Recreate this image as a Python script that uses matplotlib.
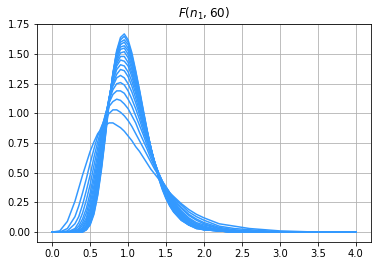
import numpy as np
import matplotlib
matplotlib.use("Agg")
import matplotlib.pyplot as plt

# x positions where the densities were read
x = [0, 0.1, 0.2, 0.3, 0.35, 0.4, 0.45, 0.5, 0.55, 0.6, 0.65, 0.7, 0.75, 0.8,
     0.85, 0.9, 0.95, 1.0, 1.05, 1.1, 1.15, 1.2, 1.25, 1.3, 1.35, 1.4, 1.45,
     1.5, 1.55, 1.6, 1.7, 1.8, 1.9, 2.0, 2.2, 2.4, 2.6, 2.8, 3.0, 3.5, 4.0]

# n1 of each curve
n1 = [10, 14, 18, 22, 26, 30, 34, 38, 42, 46, 50, 54, 58, 62, 66, 70, 74]

# density values (x 0.01)
f10 = [0, 1, 9, 26, 37, 48, 58, 68, 76, 83, 87, 90, 92, 92, 90, 88, 85, 81, 77, 72, 68,
       63, 58, 53, 49, 45, 41, 37, 33, 30, 24, 19, 15, 12, 7, 5, 3, 2, 1, 0, 0]
f14 = [0, 0, 3, 13, 22, 33, 45, 58, 70, 81, 89, 96, 100, 103, 103, 101, 98, 94, 89, 83, 77,
       71, 65, 59, 53, 48, 42, 38, 33, 29, 23, 17, 13, 10, 5, 3, 2, 1, 0, 0, 0]
f18 = [0, 0, 1, 7, 13, 23, 35, 48, 63, 76, 88, 98, 106, 110, 112, 111, 108, 104, 98, 92, 84,
       77, 70, 62, 55, 49, 43, 38, 33, 28, 21, 15, 11, 8, 4, 2, 1, 1, 0, 0, 0]
f22 = [0, 0, 0, 3, 8, 16, 27, 40, 56, 71, 86, 99, 109, 116, 119, 119, 117, 112, 106, 98, 90,
       82, 73, 65, 57, 50, 43, 37, 32, 27, 20, 14, 10, 7, 3, 1, 1, 0, 0, 0, 0]
f26 = [0, 0, 0, 2, 5, 11, 20, 33, 49, 66, 83, 98, 111, 120, 125, 126, 124, 119, 112, 104, 95,
       85, 76, 66, 58, 50, 43, 36, 31, 26, 18, 12, 8, 6, 3, 1, 0, 0, 0, 0, 0]
f30 = [0, 0, 0, 1, 3, 8, 16, 28, 44, 61, 80, 97, 112, 123, 130, 132, 130, 125, 118, 109, 99,
       88, 78, 68, 58, 50, 42, 36, 30, 25, 17, 11, 7, 5, 2, 1, 0, 0, 0, 0, 0]
f34 = [0, 0, 0, 1, 2, 6, 12, 24, 39, 57, 77, 96, 113, 125, 133, 137, 136, 131, 123, 113, 102,
       91, 79, 69, 59, 50, 42, 35, 29, 24, 16, 10, 7, 4, 2, 1, 0, 0, 0, 0, 0]
f38 = [0, 0, 0, 0, 1, 4, 10, 20, 35, 53, 74, 94, 113, 127, 137, 141, 140, 135, 127, 117, 105,
       93, 81, 69, 59, 49, 41, 34, 28, 23, 15, 9, 6, 4, 1, 1, 0, 0, 0, 0, 0]
f42 = [0, 0, 0, 0, 1, 3, 8, 17, 31, 49, 71, 93, 113, 129, 140, 145, 144, 140, 131, 120, 107,
       94, 82, 70, 59, 49, 40, 33, 27, 22, 14, 9, 5, 3, 1, 0, 0, 0, 0, 0, 0]
f46 = [0, 0, 0, 0, 1, 2, 6, 15, 28, 46, 68, 91, 112, 130, 142, 148, 148, 143, 134, 123, 110,
       96, 83, 70, 59, 49, 40, 32, 26, 21, 13, 8, 5, 3, 1, 0, 0, 0, 0, 0, 0]
f50 = [0, 0, 0, 0, 0, 2, 5, 13, 25, 43, 65, 89, 112, 131, 144, 151, 152, 147, 137, 125, 112,
       97, 83, 70, 59, 48, 39, 32, 25, 20, 13, 8, 5, 3, 1, 0, 0, 0, 0, 0, 0]
f54 = [0, 0, 0, 0, 0, 1, 4, 11, 23, 41, 63, 88, 111, 132, 146, 154, 155, 150, 140, 128, 113,
       98, 84, 71, 58, 48, 39, 31, 25, 20, 12, 7, 4, 3, 1, 0, 0, 0, 0, 0, 0]
f58 = [0, 0, 0, 0, 0, 1, 4, 10, 21, 38, 61, 86, 111, 132, 148, 156, 157, 153, 143, 130, 115,
       99, 85, 71, 58, 47, 38, 30, 24, 19, 11, 7, 4, 2, 1, 0, 0, 0, 0, 0, 0]
f62 = [0, 0, 0, 0, 0, 1, 3, 8, 19, 36, 58, 84, 110, 133, 149, 158, 160, 155, 145, 132, 116,
       100, 85, 71, 58, 47, 38, 30, 23, 18, 11, 6, 4, 2, 1, 0, 0, 0, 0, 0, 0]
f66 = [0, 0, 0, 0, 0, 1, 2, 7, 18, 34, 56, 83, 110, 133, 151, 160, 162, 158, 147, 133, 118,
       101, 85, 71, 58, 47, 37, 29, 23, 18, 11, 6, 4, 2, 1, 0, 0, 0, 0, 0, 0]
f70 = [0, 0, 0, 0, 0, 0, 2, 7, 16, 32, 55, 81, 109, 133, 152, 162, 165, 160, 149, 135, 119,
       102, 86, 71, 58, 46, 37, 29, 22, 17, 10, 6, 3, 2, 1, 0, 0, 0, 0, 0, 0]
f74 = [0, 0, 0, 0, 0, 0, 2, 6, 15, 31, 53, 80, 108, 134, 153, 164, 167, 162, 151, 136, 120,
       103, 86, 71, 57, 46, 36, 28, 22, 17, 10, 6, 3, 2, 1, 0, 0, 0, 0, 0, 0]

curves = [f10, f14, f18, f22, f26, f30, f34, f38, f42, f46, f50, f54, f58,
          f62, f66, f70, f74]

fig = plt.figure(figsize=(378 / 72, 266 / 72), dpi=72)
ax = fig.add_axes([37 / 378, 24 / 266, 334 / 378, 218 / 266])

for n, f in zip(n1, curves):
    ax.plot(x, np.array(f) / 100, color="#3399ff")

ax.grid(True)
ax.set_title("$F(n_1, 60)$")
fig.savefig("out.png", dpi=72)
